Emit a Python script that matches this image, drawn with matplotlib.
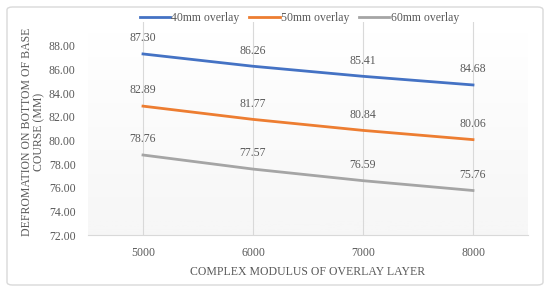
import numpy as np
import matplotlib.pyplot as plt
from matplotlib.patches import FancyBboxPatch

# Data
modulus = ["5000", "6000", "7000", "8000"]
overlay_40 = [87.30, 86.26, 85.41, 84.68]
overlay_50 = [82.89, 81.77, 80.84, 80.06]
overlay_60 = [78.76, 77.57, 76.59, 75.76]
series_names = ["40mm overlay", "50mm overlay", "60mm overlay"]
colours = ["#4472c4", "#ed7d31", "#a5a5a5"]

plt.rcParams['font.family'] = ['Liberation Serif', 'DejaVu Serif']

fig = plt.figure(figsize=(5.5, 2.9), dpi=100)
ax = fig.add_axes([88/550, 1-235/290, 440/550, (235-22)/290])

# outer rounded border
border = FancyBboxPatch((7/550, 5/290), 536/550, 278/290,
                        boxstyle="round,pad=0,rounding_size=0.01",
                        transform=fig.transFigure, fill=False,
                        edgecolor="#d9d9d9", linewidth=1.0)
fig.patches.append(border)

x = np.arange(len(modulus)) + 0.5
ax.set_xlim(0, 4)
ax.set_ylim(72, 90)

# gradient background, white at top to light grey at bottom
ax.imshow(np.linspace(0, 1, 256).reshape(-1, 1), extent=[0, 4, 72, 90],
          aspect='auto', cmap='Greys', vmin=0, vmax=14, origin='upper', zorder=0)

for xi in x:
    ax.axvline(xi, color="#d9d9d9", linewidth=0.8, zorder=1)

for vals, name, c in zip([overlay_40, overlay_50, overlay_60], series_names, colours):
    ax.plot(x, vals, color=c, linewidth=2.0, label=name, zorder=3)
    for xi, v in zip(x, vals):
        ax.annotate(f"{v:.2f}", (xi, v), xytext=(0, 7), textcoords="offset points",
                    ha="center", va="bottom", fontsize=8.5, color="#595959")

ax.set_xticks(x)
ax.set_xticklabels(modulus)
ax.set_yticks(np.arange(72, 89, 2))
ax.set_yticklabels([f"{v:.2f}" for v in np.arange(72, 89, 2)])
ax.tick_params(axis='both', length=0, labelsize=8.5, labelcolor="#595959")
ax.tick_params(axis='x', pad=9)
ax.tick_params(axis='y', pad=9)
for s in ["top", "right", "left"]:
    ax.spines[s].set_visible(False)
ax.spines["bottom"].set_color("#d9d9d9")

ax.set_xlabel("COMPLEX MODULUS OF OVERLAY LAYER", fontsize=8.5, color="#595959", labelpad=5)
ax.set_ylabel("DEFROMATION ON BOTTOM OF BASE\nCOURSE (MM)", fontsize=8.5,
              color="#595959", linespacing=1.1, va="center")
ax.yaxis.set_label_coords(-0.125, 0.486)

ax.legend(loc="center", bbox_to_anchor=(0.48, 1.02), ncol=3, frameon=False,
          fontsize=8.5, labelcolor="#595959", handlelength=2.6, columnspacing=0.8,
          handletextpad=0.1)

fig.savefig("out.png", dpi=100)
